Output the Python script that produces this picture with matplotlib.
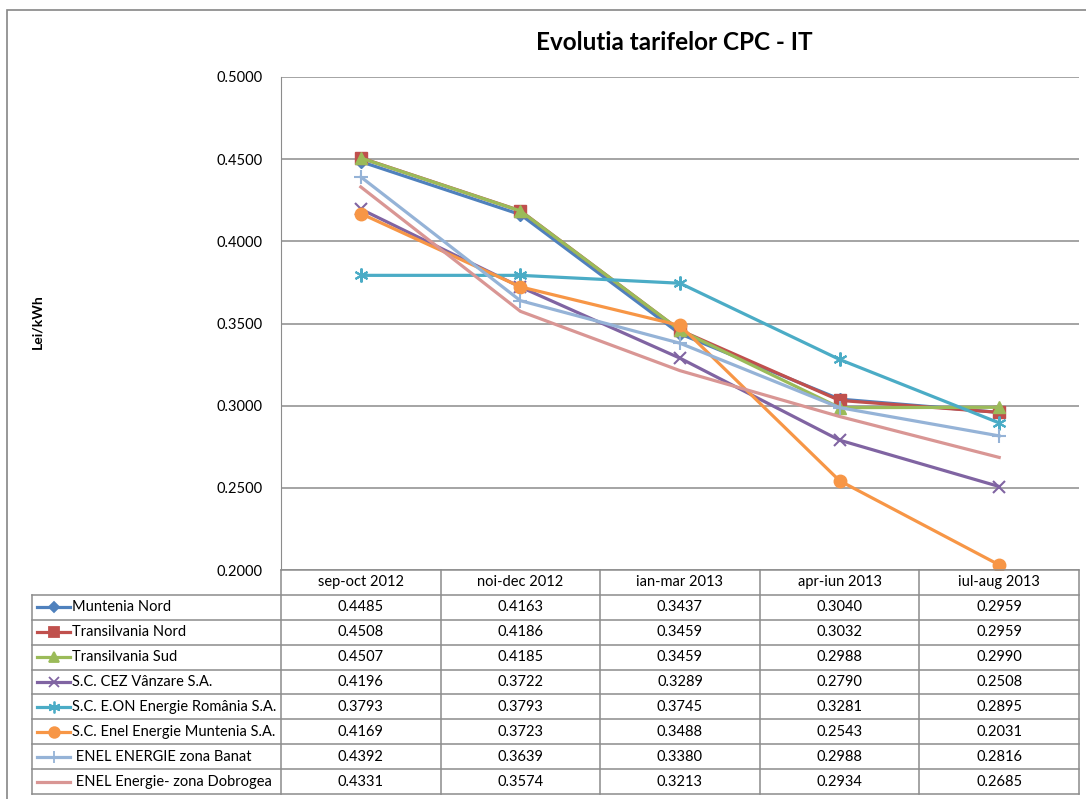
import matplotlib
matplotlib.use("Agg")
from matplotlib import pyplot as plt
from matplotlib.lines import Line2D
from matplotlib.patches import Rectangle

plt.rcParams["font.family"] = ["Lato", "DejaVu Sans"]

# data
periods = ["sep-oct 2012", "noi-dec 2012", "ian-mar 2013", "apr-iun 2013", "iul-aug 2013"]
names = [
    "Muntenia Nord",
    "Transilvania Nord",
    "Transilvania Sud",
    "S.C. CEZ Vânzare S.A.",
    "S.C. E.ON Energie România S.A.",
    "S.C. Enel Energie Muntenia S.A.",
    " ENEL ENERGIE zona Banat",
    " ENEL Energie- zona Dobrogea",
]
muntenia_nord = [0.4485, 0.4163, 0.3437, 0.3040, 0.2959]
transilvania_nord = [0.4508, 0.4186, 0.3459, 0.3032, 0.2959]
transilvania_sud = [0.4507, 0.4185, 0.3459, 0.2988, 0.2990]
cez = [0.4196, 0.3722, 0.3289, 0.2790, 0.2508]
eon = [0.3793, 0.3793, 0.3745, 0.3281, 0.2895]
enel_muntenia = [0.4169, 0.3723, 0.3488, 0.2543, 0.2031]
enel_banat = [0.4392, 0.3639, 0.3380, 0.2988, 0.2816]
enel_dobrogea = [0.4331, 0.3574, 0.3213, 0.2934, 0.2685]
series = [muntenia_nord, transilvania_nord, transilvania_sud, cez, eon,
          enel_muntenia, enel_banat, enel_dobrogea]

colors = ["#4F81BD", "#C0504D", "#9BBB59", "#8064A2", "#4BACC6",
          "#F79646", "#95B3D7", "#D99694"]
markers = ["D", "s", "^", "x", (6, 2, 0), "o", "+", None]
msizes = [6, 8, 8, 9, 10, 9, 10, 0]

W, H = 1086, 799
fig = plt.figure(figsize=(W / 100, H / 100), dpi=100)

# outer chart frame
fig.patches.append(Rectangle((7 / W, -0.1), 1.2, 1 - 10 / H + 0.1,
                             transform=fig.transFigure, fill=False,
                             edgecolor="#868686", linewidth=1.2))

grid_c = "#8C8C8C"
ax = fig.add_axes([281 / W, 1 - 570 / H, (1079 - 281) / W, (570 - 77) / H])
x = list(range(len(periods)))
for vals, c, m, ms in zip(series, colors, markers, msizes):
    ax.plot(x, vals, color=c, linewidth=2.3, marker=m, markersize=ms,
            markeredgewidth=1.5 if m in ("x", "+", (6, 2, 0)) else 1,
            markeredgecolor=c, solid_joinstyle="round", zorder=3)
ax.set_xlim(-0.5, len(periods) - 0.5)
ax.set_ylim(0.2, 0.5)
ax.set_yticks([0.2, 0.25, 0.3, 0.35, 0.4, 0.45, 0.5])
ax.set_yticklabels([f"{v:.4f}" for v in ax.get_yticks()], fontsize=10.5)
ax.tick_params(axis="y", length=0, pad=13)
ax.set_xticks([])
ax.grid(axis="y", color=grid_c, linewidth=1.1)
for s in ["top", "right", "bottom"]:
    ax.spines[s].set_visible(False)
ax.spines["left"].set_color(grid_c)
fig.text(674 / W, 1 - 42 / H, "Evolutia tarifelor CPC - IT", fontsize=17.5,
         fontweight="bold", ha="center", va="center")
fig.text(37 / W, 1 - 322 / H, "Lei/kWh", rotation=90, fontsize=10,
         fontweight="bold", ha="center", va="center")

# data table
leg_w = (281 - 32) / ((1079 - 281) / 5)
tax = fig.add_axes([32 / W, 1 - 794 / H, (1079 - 32) / W, (794 - 570) / H])
tax.set_xlim(-0.5 - leg_w, len(periods) - 0.5)
tax.set_ylim(len(names) + 1, 0)
tax.axis("off")
nrows = len(names) + 1
for r in range(nrows + 1):
    x0 = -0.5 if r == 0 else -0.5 - leg_w
    tax.plot([x0, len(periods) - 0.5], [r, r], color=grid_c, lw=1.1, clip_on=False)
for cidx in range(len(periods) + 1):
    tax.plot([cidx - 0.5, cidx - 0.5], [0, nrows], color=grid_c, lw=1.1, clip_on=False)
tax.plot([-0.5 - leg_w] * 2, [1, nrows], color=grid_c, lw=1.1, clip_on=False)
for cidx, p in enumerate(periods):
    tax.text(cidx, 0.5, p, ha="center", va="center", fontsize=10.5)
for r, (name, vals, c, m, ms) in enumerate(zip(names, series, colors, markers, msizes), start=1):
    k0 = -0.5 - leg_w + 0.03
    k1 = k0 + 0.21
    tax.add_line(Line2D([k0, k1], [r + 0.5, r + 0.5], color=c, lw=2.3, clip_on=False))
    if m is not None:
        tax.add_line(Line2D([(k0 + k1) / 2], [r + 0.5], color=c, marker=m,
                            markersize=ms * 0.85, markeredgewidth=1.3,
                            markeredgecolor=c, clip_on=False))
    tax.text(k1 + 0.01, r + 0.5, name, ha="left", va="center", fontsize=10.5)
    for cidx, v in enumerate(vals):
        tax.text(cidx, r + 0.5, f"{v:.4f}", ha="center", va="center", fontsize=10.5)

fig.savefig("out.png", dpi=100)
